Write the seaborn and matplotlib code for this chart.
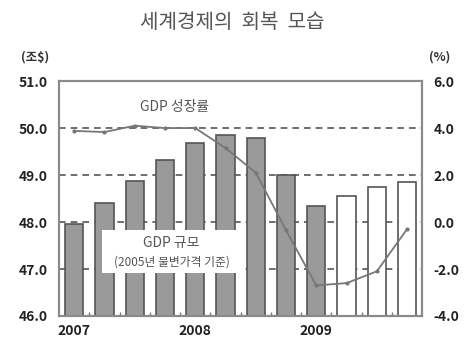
import matplotlib
matplotlib.use("Agg")
import matplotlib.pyplot as plt
from matplotlib.patches import Rectangle
import seaborn as sns
import pandas as pd
import numpy as np

quarters = ["2007Q1", "2007Q2", "2007Q3", "2007Q4",
            "2008Q1", "2008Q2", "2008Q3", "2008Q4",
            "2009Q1", "2009Q2", "2009Q3", "2009Q4"]
gdp_size = [47.96, 48.4, 48.87, 49.32, 49.68, 49.85, 49.79, 49.0, 48.34, 48.55, 48.74, 48.85]
gdp_growth = [3.88, 3.83, 4.1, 4.0, 4.0, 3.15, 2.1, -0.35, -2.7, -2.6, -2.1, -0.3]
is_forecast = [False] * 9 + [True] * 3
year_labels = ["2007", "2008", "2009"]
year_positions = [0, 4, 8]

sns.set_theme(style="white")
plt.rcParams['font.family'] = ['Noto Sans CJK KR', 'DejaVu Sans']

df = pd.DataFrame({"quarter": quarters, "size": gdp_size, "growth": gdp_growth,
                   "fc": is_forecast})

fig = plt.figure(figsize=(4.65, 3.48), dpi=100)
ax = fig.add_axes([0.127, 0.092, 0.781, 0.675])

palette = {q: ("#ffffff" if f else "#9a9a9a") for q, f in zip(quarters, is_forecast)}
sns.barplot(data=df, x="quarter", y="size", hue="quarter", palette=palette,
            legend=False, width=0.6, ax=ax, edgecolor="#555555", linewidth=1.2,
            saturation=1, zorder=3)
ax.set_ylim(46, 51)
ax.set_xlim(-0.5, 11.5)
for g in [47, 48, 49, 50]:
    ax.axhline(g, color="#555555", lw=1.2, ls=(0, (4, 3)), zorder=1)

ax.set_xticks(year_positions)
ax.set_xticklabels(year_labels, fontsize=10, fontweight="bold", color="#222222")
ax.set_xticks(np.arange(0.5, 11.5, 1), minor=True)
ax.tick_params(axis="x", which="minor", direction="in", length=3, color="#777777", bottom=True)
ax.tick_params(axis="x", which="major", length=0, pad=6)
ax.set_yticks([46, 47, 48, 49, 50, 51])
ax.set_yticklabels([f"{v:.1f}" for v in [46, 47, 48, 49, 50, 51]],
                   fontsize=10, fontweight="bold", color="#222222")
ax.tick_params(axis="y", length=0, pad=8)
ax.set_xlabel("")
ax.set_ylabel("")
for s in ax.spines.values():
    s.set_visible(True)
    s.set_color("#8a8a8a")
    s.set_linewidth(1.5)

ax.add_patch(Rectangle((0.93, 46.92), 4.57, 0.91, facecolor="white",
                       edgecolor="none", zorder=4))
ax.text(3.22, 47.55, "GDP 규모", ha="center", va="center", fontsize=10,
        color="#555555", zorder=6)
ax.text(3.22, 47.15, "(2005년 불변가격 기준)", ha="center", va="center",
        fontsize=8.5, color="#555555", zorder=6)

ax2 = ax.twinx()
sns.lineplot(x=np.arange(len(quarters)), y=gdp_growth, ax=ax2, color="#777777",
             lw=1.3, marker="o", markersize=3, markeredgewidth=0, zorder=5)
ax2.set_ylim(-4, 6)
ax2.set_yticks([-4, -2, 0, 2, 4, 6])
ax2.set_yticklabels([f"{v:.1f}" for v in [-4, -2, 0, 2, 4, 6]],
                    fontsize=10, fontweight="bold", color="#222222")
ax2.tick_params(axis="y", length=0, pad=8)
for s in ax2.spines.values():
    s.set_visible(True)
    s.set_color("#8a8a8a")
    s.set_linewidth(1.5)

ax.text(3.33, 50.45, "GDP 성장률", ha="center", va="center", fontsize=10,
        color="#555555", zorder=6)

fig.text(0.5, 0.935, "세계경제의  회복  모습", ha="center", va="center", fontsize=14.5,
         color="#555555")
fig.text(0.075, 0.835, "(조$)", ha="center", va="center", fontsize=9,
         fontweight="bold", color="#333333")
fig.text(0.945, 0.835, "(%)", ha="center", va="center", fontsize=9,
         fontweight="bold", color="#333333")

fig.savefig("out.png", dpi=100)
